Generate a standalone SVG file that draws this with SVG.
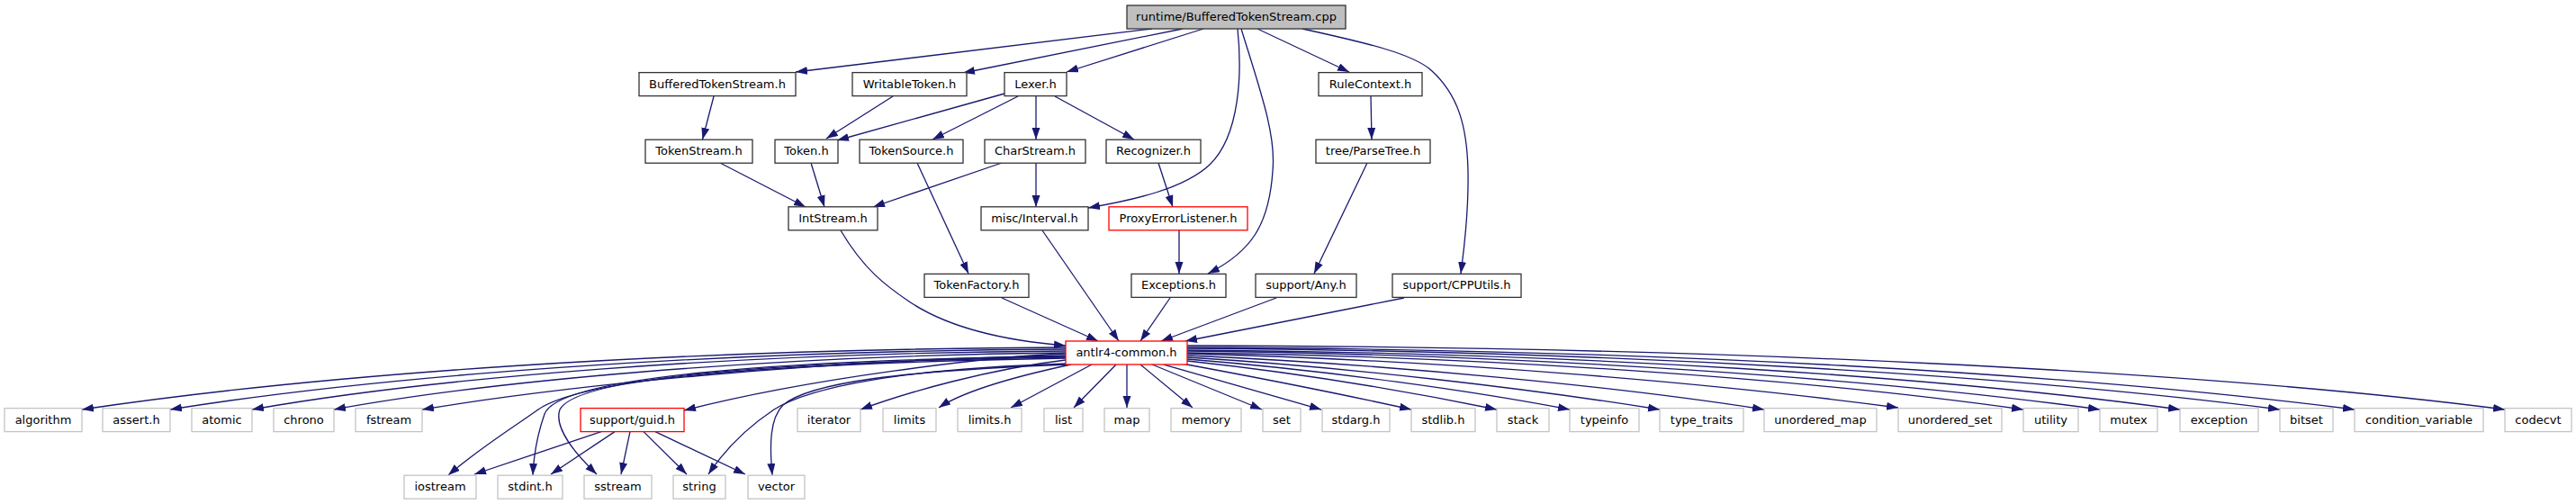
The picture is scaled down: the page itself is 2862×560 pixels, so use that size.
<svg xmlns="http://www.w3.org/2000/svg" width="2862" height="560" viewBox="0 0 2862 560">
<style>
.n rect{fill:#fff;stroke:#333;stroke-width:1.3}
.n.ext rect{stroke:#c4c4c4}
.n.red rect{stroke:#ff0000}
.n.root rect{fill:#bfbfbf}
text{font-family:"DejaVu Sans","Liberation Sans",sans-serif;font-size:13px;text-anchor:middle;fill:#000}
#edges path{fill:none;stroke:#191970;stroke-width:1.3;marker-end:url(#a)}
</style>
<defs>
<marker id="a" markerUnits="userSpaceOnUse" markerWidth="14" markerHeight="10" refX="13" refY="4.5" orient="auto"><path d="M0,0L13,4.5L0,9z" fill="#191970"/></marker>
</defs>
<rect width="2862" height="560" fill="#fff"/>
<g id="edges">
<path d="M1280,32L884,80"/>
<path d="M1314,32L1070,81"/>
<path d="M1337,32L1185,80"/>
<path d="M1375,32C1380,80 1378,150 1344,183C1315,210 1260,222 1209,231"/>
<path d="M1379,32C1400,100 1418,150 1414,190C1410,250 1390,280 1342,304"/>
<path d="M1397,32L1499,80"/>
<path d="M1447,32C1520,48 1570,60 1590,78C1620,105 1630,140 1631,190C1632,240 1626,280 1623,304"/>
<path d="M793,107L780.5,155"/>
<path d="M992,107L918,154"/>
<path d="M1116,104L930,156"/>
<path d="M1131,107L1036,155"/>
<path d="M1151,107L1151,155"/>
<path d="M1172,107L1260,155"/>
<path d="M1523,107L1524,155"/>
<path d="M800,181L895,230"/>
<path d="M901,181L916,230"/>
<path d="M1113,181L970,230"/>
<path d="M1151,181L1151,230"/>
<path d="M1019,181L1076,304"/>
<path d="M1287,181L1303,230"/>
<path d="M1310,256L1310,304"/>
<path d="M1519,181L1460,304"/>
<path d="M934,256C960,300 985,318 1010,335C1050,362 1110,378 1184,384"/>
<path d="M1113,331L1220,379"/>
<path d="M1158,256L1243,379"/>
<path d="M1300,331L1267,379"/>
<path d="M1418,331L1290,379"/>
<path d="M1560,331L1317,379"/>
<path d="M1184,386C750,388 360,415 91,455"/>
<path d="M1184,388C780,390 420,418 189,455"/>
<path d="M1184,390C810,392 480,420 280,455"/>
<path d="M1184,392C850,395 540,424 371,455"/>
<path d="M1184,395C900,400 620,430 469,455"/>
<path d="M1184,398C850,404 650,420 598,455C570,475 530,500 498,528"/>
<path d="M1184,393C1100,396 900,420 760,456"/>
<path d="M1184,396C850,400 620,420 605,460C598,480 593,505 592,528"/>
<path d="M1184,397C850,402 640,420 622,455C615,475 640,505 663,527"/>
<path d="M1186,404C1000,410 900,430 860,455C830,475 805,500 787,527"/>
<path d="M1188,405C1000,412 900,425 870,450C855,465 855,495 858,528"/>
<path d="M1184,400C1100,410 1010,435 956,455"/>
<path d="M1190,405C1120,420 1070,435 1043,453"/>
<path d="M1213,405L1123,453"/>
<path d="M1240,405L1193,453"/>
<path d="M1252,405L1252,453"/>
<path d="M1267,405L1325,453"/>
<path d="M1280,405L1402,455"/>
<path d="M1293,405L1468,455"/>
<path d="M1313,404C1400,420 1500,440 1568,455"/>
<path d="M1319,401C1450,415 1580,438 1663,455"/>
<path d="M1319,399C1480,412 1640,435 1744,455"/>
<path d="M1319,397C1500,408 1700,432 1844,455"/>
<path d="M1319,395C1550,405 1800,430 1960,455"/>
<path d="M1319,393C1600,400 1900,425 2109,453"/>
<path d="M1319,392C1650,396 2000,420 2248,455"/>
<path d="M1319,390C1700,394 2080,420 2333,455"/>
<path d="M1319,389C1750,392 2150,418 2422,455"/>
<path d="M1319,387C1800,390 2250,418 2533,455"/>
<path d="M1319,386C1850,388 2300,415 2616,455"/>
<path d="M1319,384C1900,385 2450,412 2783,455"/>
<path d="M668,479.6L527,527"/>
<path d="M683,479.6L612,527"/>
<path d="M700,479.6L690,527"/>
<path d="M715,479.6L763,527"/>
<path d="M728,479.6L828,527"/>
</g>
<g id="root" class="n root"><rect x="1252" y="6" width="243" height="26"/><text x="1373.5" y="23">runtime/BufferedTokenStream.cpp</text></g>
<g id="n_BufferedTokenStream_h" class="n"><rect x="710" y="80.6" width="174" height="26"/><text x="797" y="97.6">BufferedTokenStream.h</text></g>
<g id="n_WritableToken_h" class="n"><rect x="947" y="80.6" width="127" height="26"/><text x="1010.5" y="97.6">WritableToken.h</text></g>
<g id="n_Lexer_h" class="n"><rect x="1116" y="80.6" width="69" height="26"/><text x="1150.5" y="97.6">Lexer.h</text></g>
<g id="n_RuleContext_h" class="n"><rect x="1465" y="80.6" width="115" height="26"/><text x="1522.5" y="97.6">RuleContext.h</text></g>
<g id="n_TokenStream_h" class="n"><rect x="717" y="155.2" width="119" height="26"/><text x="776.5" y="172.2">TokenStream.h</text></g>
<g id="n_Token_h" class="n"><rect x="861" y="155.2" width="70" height="26"/><text x="896" y="172.2">Token.h</text></g>
<g id="n_TokenSource_h" class="n"><rect x="955" y="155.2" width="115" height="26"/><text x="1012.5" y="172.2">TokenSource.h</text></g>
<g id="n_CharStream_h" class="n"><rect x="1094" y="155.2" width="112" height="26"/><text x="1150" y="172.2">CharStream.h</text></g>
<g id="n_Recognizer_h" class="n"><rect x="1229" y="155.2" width="105" height="26"/><text x="1281.5" y="172.2">Recognizer.h</text></g>
<g id="n_ParseTree_h" class="n"><rect x="1462" y="155.2" width="127" height="26"/><text x="1525.5" y="172.2">tree/ParseTree.h</text></g>
<g id="n_IntStream_h" class="n"><rect x="876" y="229.8" width="99" height="26"/><text x="925.5" y="246.8">IntStream.h</text></g>
<g id="n_Interval_h" class="n"><rect x="1090" y="229.8" width="119" height="26"/><text x="1149.5" y="246.8">misc/Interval.h</text></g>
<g id="n_ProxyErrorListener_h" class="n red"><rect x="1232" y="229.8" width="154" height="26"/><text x="1309" y="246.8">ProxyErrorListener.h</text></g>
<g id="n_TokenFactory_h" class="n"><rect x="1027" y="304.4" width="116" height="26"/><text x="1085" y="321.4">TokenFactory.h</text></g>
<g id="n_Exceptions_h" class="n"><rect x="1257" y="304.4" width="105" height="26"/><text x="1309.5" y="321.4">Exceptions.h</text></g>
<g id="n_Any_h" class="n"><rect x="1395" y="304.4" width="112" height="26"/><text x="1451" y="321.4">support/Any.h</text></g>
<g id="n_CPPUtils_h" class="n"><rect x="1547" y="304.4" width="143" height="26"/><text x="1618.5" y="321.4">support/CPPUtils.h</text></g>
<g id="n_antlr4_common_h" class="n red"><rect x="1184" y="379" width="135" height="26"/><text x="1251.5" y="396">antlr4-common.h</text></g>
<g id="n_algorithm" class="n ext"><rect x="5" y="453.6" width="86" height="26"/><text x="48" y="470.6">algorithm</text></g>
<g id="n_assert_h" class="n ext"><rect x="114" y="453.6" width="75" height="26"/><text x="151.5" y="470.6">assert.h</text></g>
<g id="n_atomic" class="n ext"><rect x="213" y="453.6" width="67" height="26"/><text x="246.5" y="470.6">atomic</text></g>
<g id="n_chrono" class="n ext"><rect x="304" y="453.6" width="67" height="26"/><text x="337.5" y="470.6">chrono</text></g>
<g id="n_fstream" class="n ext"><rect x="395" y="453.6" width="74" height="26"/><text x="432" y="470.6">fstream</text></g>
<g id="n_guid_h" class="n red"><rect x="645" y="453.6" width="115" height="26"/><text x="702.5" y="470.6">support/guid.h</text></g>
<g id="n_iterator" class="n ext"><rect x="886" y="453.6" width="70" height="26"/><text x="921" y="470.6">iterator</text></g>
<g id="n_limits" class="n ext"><rect x="981" y="453.6" width="59" height="26"/><text x="1010.5" y="470.6">limits</text></g>
<g id="n_limits_h" class="n ext"><rect x="1064" y="453.6" width="71" height="26"/><text x="1099.5" y="470.6">limits.h</text></g>
<g id="n_list" class="n ext"><rect x="1160" y="453.6" width="43" height="26"/><text x="1181.5" y="470.6">list</text></g>
<g id="n_map" class="n ext"><rect x="1227" y="453.6" width="50" height="26"/><text x="1252" y="470.6">map</text></g>
<g id="n_memory" class="n ext"><rect x="1301" y="453.6" width="78" height="26"/><text x="1340" y="470.6">memory</text></g>
<g id="n_set" class="n ext"><rect x="1403" y="453.6" width="42" height="26"/><text x="1424" y="470.6">set</text></g>
<g id="n_stdarg_h" class="n ext"><rect x="1469" y="453.6" width="75" height="26"/><text x="1506.5" y="470.6">stdarg.h</text></g>
<g id="n_stdlib_h" class="n ext"><rect x="1568" y="453.6" width="71" height="26"/><text x="1603.5" y="470.6">stdlib.h</text></g>
<g id="n_stack" class="n ext"><rect x="1663" y="453.6" width="58" height="26"/><text x="1692" y="470.6">stack</text></g>
<g id="n_typeinfo" class="n ext"><rect x="1744" y="453.6" width="77" height="26"/><text x="1782.5" y="470.6">typeinfo</text></g>
<g id="n_type_traits" class="n ext"><rect x="1844" y="453.6" width="93" height="26"/><text x="1890.5" y="470.6">type_traits</text></g>
<g id="n_unordered_map" class="n ext"><rect x="1960" y="453.6" width="125" height="26"/><text x="2022.5" y="470.6">unordered_map</text></g>
<g id="n_unordered_set" class="n ext"><rect x="2109" y="453.6" width="115" height="26"/><text x="2166.5" y="470.6">unordered_set</text></g>
<g id="n_utility" class="n ext"><rect x="2248" y="453.6" width="61" height="26"/><text x="2278.5" y="470.6">utility</text></g>
<g id="n_mutex" class="n ext"><rect x="2333" y="453.6" width="64" height="26"/><text x="2365" y="470.6">mutex</text></g>
<g id="n_exception" class="n ext"><rect x="2422" y="453.6" width="87" height="26"/><text x="2465.5" y="470.6">exception</text></g>
<g id="n_bitset" class="n ext"><rect x="2533" y="453.6" width="59" height="26"/><text x="2562.5" y="470.6">bitset</text></g>
<g id="n_condition_variable" class="n ext"><rect x="2616" y="453.6" width="143" height="26"/><text x="2687.5" y="470.6">condition_variable</text></g>
<g id="n_codecvt" class="n ext"><rect x="2783" y="453.6" width="74" height="26"/><text x="2820" y="470.6">codecvt</text></g>
<g id="n_iostream" class="n ext"><rect x="449" y="528.2" width="80" height="26"/><text x="489" y="545.2">iostream</text></g>
<g id="n_stdint_h" class="n ext"><rect x="553" y="528.2" width="72" height="26"/><text x="589" y="545.2">stdint.h</text></g>
<g id="n_sstream" class="n ext"><rect x="649" y="528.2" width="75" height="26"/><text x="686.5" y="545.2">sstream</text></g>
<g id="n_string" class="n ext"><rect x="748" y="528.2" width="58" height="26"/><text x="777" y="545.2">string</text></g>
<g id="n_vector" class="n ext"><rect x="831" y="528.2" width="63" height="26"/><text x="862.5" y="545.2">vector</text></g>
</svg>
